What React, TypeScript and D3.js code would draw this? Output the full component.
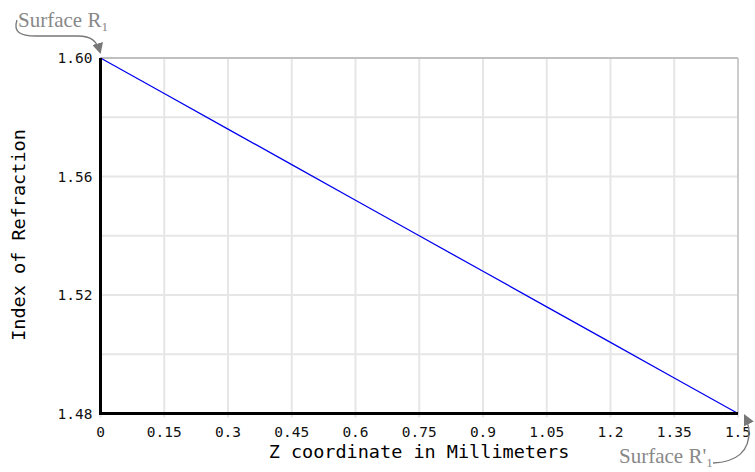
import React from "react";
import * as d3 from "d3";

const zValues = [0, 0.15, 0.3, 0.45, 0.6, 0.75, 0.9, 1.05, 1.2, 1.35, 1.5];
const indexValues = [1.6, 1.588, 1.576, 1.564, 1.552, 1.54, 1.528, 1.516, 1.504, 1.492, 1.48];
const xTicks = [0, 0.15, 0.3, 0.45, 0.6, 0.75, 0.9, 1.05, 1.2, 1.35, 1.5];
const yGrid = [1.48, 1.5, 1.52, 1.54, 1.56, 1.58, 1.6];
const yLabels = [1.48, 1.52, 1.56, 1.6];

const W = 755;
const H = 472;
const L = 100.5, R = 738, T = 58, B = 413.5;

export default function App() {
  const x = d3.scaleLinear().domain([0, 1.5]).range([L, R]);
  const y = d3.scaleLinear().domain([1.48, 1.6]).range([B, T]);
  const line = d3.line<number>().x((_, i) => x(zValues[i])).y((d) => y(d));
  const mono = "'DejaVu Sans Mono', monospace";
  const serif = "'Liberation Serif', 'Times New Roman', serif";
  const fmtX = (v: number) => (v === 0 ? "0" : String(+v.toFixed(2)));
  return (
    <svg width={W} height={H} style={{ position: "absolute", left: 0, top: 0 }}>
      <defs>
        <marker id="ah" viewBox="0 0 10 10" refX="8" refY="5" markerWidth="11" markerHeight="11" markerUnits="userSpaceOnUse" orient="auto">
          <path d="M0,0 L10,5 L0,10 z" fill="#777" />
        </marker>
      </defs>
      <rect x={0} y={0} width={W} height={H} fill="#fff" />
      {xTicks.map((t) => (
        <line key={"vx" + t} x1={x(t)} x2={x(t)} y1={T} y2={B + 4} stroke="#e6e6e6" strokeWidth={2} />
      ))}
      {yGrid.map((t) => (
        <line key={"hy" + t} x1={L} x2={R} y1={y(t)} y2={y(t)} stroke="#e6e6e6" strokeWidth={2} />
      ))}
      <line x1={L} x2={R} y1={T} y2={T} stroke="#999" strokeWidth={1.2} />
      <line x1={R} x2={R} y1={T} y2={B} stroke="#bbb" strokeWidth={1.2} />
      <path d={line(indexValues) || ""} fill="none" stroke="#0000ee" strokeWidth={1.3} />
      <line x1={L} x2={L} y1={T} y2={B + 1.5} stroke="#000" strokeWidth={3} />
      <line x1={L - 1.5} x2={R} y1={B} y2={B} stroke="#000" strokeWidth={3} />
      {yLabels.map((t) => (
        <text key={"yl" + t} x={L - 8} y={y(t)} dy="0.35em" textAnchor="end" fontFamily={mono} fontSize={14.5} fill="#111">
          {t.toFixed(2)}
        </text>
      ))}
      {xTicks.map((t) => (
        <text key={"xl" + t} x={x(t)} y={437} textAnchor="middle" fontFamily={mono} fontSize={14.5} fill="#111">
          {fmtX(t)}
        </text>
      ))}
      <text x={419} y={458} textAnchor="middle" fontFamily={mono} fontSize={18.5} fill="#000">
        Z coordinate in Millimeters
      </text>
      <text transform={`translate(25,235) rotate(-90)`} textAnchor="middle" fontFamily={mono} fontSize={18.5} fill="#000">
        Index of Refraction
      </text>
      <text x={18} y={27} fontFamily={serif} fontSize={21} fill="#888">
        Surface R<tspan fontSize={13} dy={4}>1</tspan>
      </text>
      <path d="M17,20 C13,32 20,36 36,36 L78,36 C91,36 97,41 100,52" fill="none" stroke="#777" strokeWidth={1.3} markerEnd="url(#ah)" />
      <text x={619} y={463} fontFamily={serif} fontSize={21} fill="#888">
        Surface R'<tspan fontSize={13} dy={4}>1</tspan>
      </text>
      <path d="M713,463 C736,462 750,452 749,430 C748,424 747,420 745,416" fill="none" stroke="#777" strokeWidth={1.3} markerEnd="url(#ah)" />
    </svg>
  );
}
